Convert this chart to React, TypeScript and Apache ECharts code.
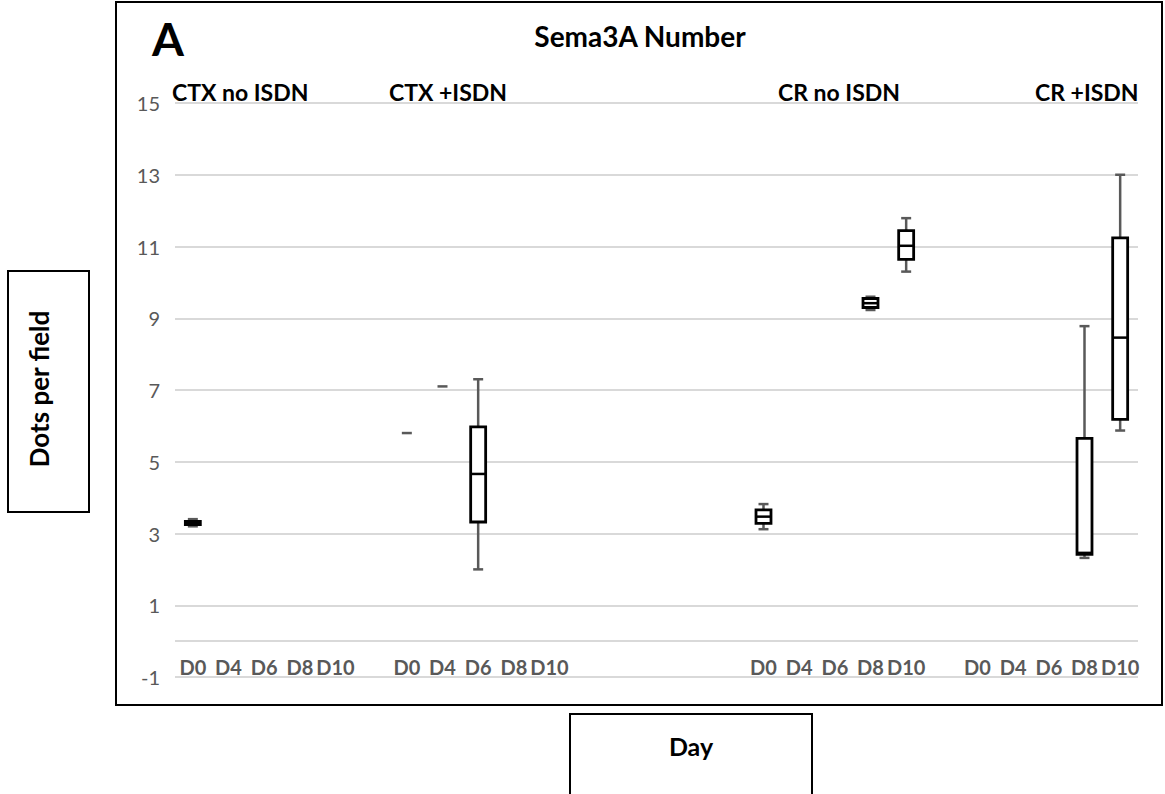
import React, { useEffect, useRef } from "react";
import * as echarts from "echarts";

// Category axis: four groups of days, separated by blank spacer categories
const categories = [
  "D0", "D4", "D6", "D8", "D10", "",
  "D0", "D4", "D6", "D8", "D10", "", "", "", "", "",
  "D0", "D4", "D6", "D8", "D10", "",
  "D0", "D4", "D6", "D8", "D10",
];

const groupNames = ["CTX no ISDN", "CTX +ISDN", "CR no ISDN", "CR +ISDN"];

// [min, q1, median, q3, max] per day (D0, D4, D6, D8, D10); null = no data
const ctxNoIsdn = [[3.2, 3.25, 3.3, 3.34, 3.4], null, null, null, null];
const ctxIsdn = [
  [5.8, 5.8, 5.8, 5.8, 5.8],
  [7.1, 7.1, 7.1, 7.1, 7.1],
  [2.0, 3.32, 4.66, 5.97, 7.3],
  null,
  null,
];
const crNoIsdn = [
  [3.12, 3.28, 3.47, 3.66, 3.82],
  null,
  null,
  [9.23, 9.3, 9.42, 9.55, 9.6],
  [10.3, 10.64, 11.02, 11.44, 11.79],
];
const crIsdn = [
  null,
  null,
  null,
  [2.32, 2.42, 2.46, 5.65, 8.78],
  [5.87, 6.18, 8.46, 11.24, 13.0],
];

const yTicks = { min: -1, max: 15, interval: 2 };
const horizontalAxisAt = 0;

const FONT = "Lato, 'Open Sans', sans-serif";

export default function App() {
  const ref = useRef<HTMLDivElement>(null);

  useEffect(() => {
    if (!ref.current) return;
    const chart = echarts.init(ref.current, null, { renderer: "svg" });

    const groupStarts: number[] = [];
    categories.forEach((c, i) => {
      if (c === "D0") groupStarts.push(i);
    });
    const groups = [ctxNoIsdn, ctxIsdn, crNoIsdn, crIsdn];
    const data: number[][] = [];
    groups.forEach((g, gi) => {
      g.forEach((v, di) => {
        if (v) data.push([groupStarts[gi] + di, ...v]);
      });
    });

    const WHISKER = "#595959";

    const renderItem = (params: any, api: any) => {
      const idx = api.value(0);
      const vals = [1, 2, 3, 4, 5].map((k) => api.value(k));
      const cx = api.coord([idx, 0])[0];
      const ys = vals.map((v) => api.coord([idx, v])[1]);
      const bandW = api.size([1, 0])[0];
      const boxHalf = bandW * 0.21;
      const capHalf = bandW * 0.14;
      const [yMin, yQ1, yMed, yQ3, yMax] = ys;
      const children: any[] = [];
      const single = vals[0] === vals[4];
      if (single) {
        children.push({
          type: "line",
          shape: { x1: cx - capHalf, y1: yMed, x2: cx + capHalf, y2: yMed },
          style: { stroke: WHISKER, lineWidth: 2.5 },
        });
        return { type: "group", children };
      }
      children.push(
        {
          type: "line",
          shape: { x1: cx, y1: yMax, x2: cx, y2: yQ3 },
          style: { stroke: WHISKER, lineWidth: 2.5 },
        },
        {
          type: "line",
          shape: { x1: cx, y1: yQ1, x2: cx, y2: yMin },
          style: { stroke: WHISKER, lineWidth: 2.5 },
        },
        {
          type: "line",
          shape: { x1: cx - capHalf, y1: yMax, x2: cx + capHalf, y2: yMax },
          style: { stroke: WHISKER, lineWidth: 2.5 },
        },
        {
          type: "line",
          shape: { x1: cx - capHalf, y1: yMin, x2: cx + capHalf, y2: yMin },
          style: { stroke: WHISKER, lineWidth: 2.5 },
        },
        {
          type: "rect",
          shape: { x: cx - boxHalf, y: yQ3, width: boxHalf * 2, height: yQ1 - yQ3 },
          style: { fill: "#ffffff", stroke: "#000000", lineWidth: 2.8 },
        },
        {
          type: "line",
          shape: { x1: cx - boxHalf, y1: yMed, x2: cx + boxHalf, y2: yMed },
          style: { stroke: "#000000", lineWidth: 2.5 },
        }
      );
      return { type: "group", children };
    };

    const groupLabelPos = [
      { x: 172, y: 92 },
      { x: 389, y: 92 },
      { x: 778, y: 92 },
      { x: 1035, y: 92 },
    ];

    chart.setOption({
      animation: false,
      backgroundColor: "#ffffff",
      grid: { left: 175, right: 27, top: 103, bottom: 117, containLabel: false },
      xAxis: {
        type: "category",
        data: categories,
        boundaryGap: true,
        axisLine: { show: false, onZero: false },
        axisTick: { show: false },
        axisLabel: {
          inside: true,
          interval: 0,
          margin: 0,
          color: "#595959",
          fontFamily: FONT,
          fontWeight: "bold",
          fontSize: 20,
        },
        splitLine: { show: false },
      },
      yAxis: {
        type: "value",
        min: yTicks.min,
        max: yTicks.max,
        interval: yTicks.interval,
        axisLine: { show: false },
        axisTick: { show: false },
        axisLabel: {
          color: "#595959",
          fontFamily: FONT,
          fontSize: 20,
          margin: 15,
        },
        splitLine: { show: true, lineStyle: { color: "#d9d9d9", width: 2 } },
      },
      series: [
        {
          type: "custom",
          renderItem,
          data,
          encode: { x: 0, y: [1, 2, 3, 4, 5] },
          clip: false,
          z: 3,
          markLine: {
            silent: true,
            symbol: "none",
            animation: false,
            label: { show: false },
            lineStyle: { color: "#d9d9d9", width: 2, type: "solid" },
            data: [{ yAxis: horizontalAxisAt }],
            z: 1,
          },
        },
      ],
      graphic: [
        {
          type: "rect",
          shape: { x: 116, y: 2, width: 1046, height: 703 },
          style: { fill: "none", stroke: "#000000", lineWidth: 2 },
          silent: true,
        },
        {
          type: "text",
          style: {
            text: "A",
            x: 152,
            y: 38,
            font: `bold 46px ${FONT}`,
            fill: "#000000",
            align: "left",
            verticalAlign: "middle",
          },
        },
        {
          type: "text",
          style: {
            text: "Sema3A Number",
            x: 640,
            y: 36,
            font: `bold 28px ${FONT}`,
            fill: "#000000",
            align: "center",
            verticalAlign: "middle",
          },
        },
        ...groupNames.map((name, i) => ({
          type: "text",
          style: {
            text: name,
            x: groupLabelPos[i].x,
            y: groupLabelPos[i].y,
            font: `bold 23px ${FONT}`,
            fill: "#000000",
            align: "left",
            verticalAlign: "middle",
          },
        })),
        {
          type: "rect",
          shape: { x: 8, y: 271, width: 81, height: 241 },
          style: { fill: "none", stroke: "#000000", lineWidth: 2 },
        },
        {
          type: "text",
          x: 39,
          y: 389,
          rotation: Math.PI / 2,
          style: {
            text: "Dots per field",
            x: 0,
            y: 0,
            font: `bold 26px ${FONT}`,
            fill: "#000000",
            align: "center",
            verticalAlign: "middle",
          },
        },
        {
          type: "rect",
          shape: { x: 570, y: 714, width: 242, height: 120 },
          style: { fill: "none", stroke: "#000000", lineWidth: 2 },
        },
        {
          type: "text",
          style: {
            text: "Day",
            x: 691,
            y: 746,
            font: `bold 25px ${FONT}`,
            fill: "#000000",
            align: "center",
            verticalAlign: "middle",
          },
        },
      ],
    });

    return () => chart.dispose();
  }, []);

  return (
    <div
      ref={ref}
      style={{ position: "absolute", left: 0, top: 0, width: 1165, height: 794 }}
    />
  );
}
